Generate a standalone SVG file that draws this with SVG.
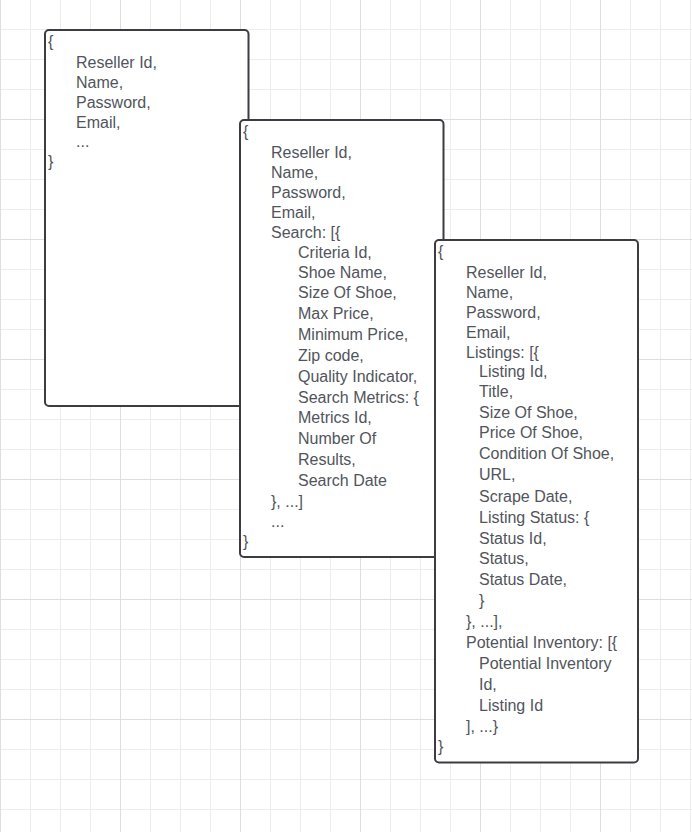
<svg xmlns="http://www.w3.org/2000/svg" width="692" height="832" viewBox="0 0 692 832">
<style>
.minor{stroke:#ededed;stroke-width:1;fill:none}
.major{stroke:#dedede;stroke-width:1;fill:none}
.box{fill:#ffffff;stroke:#3c3c42;stroke-width:2}
text{font-family:"Liberation Sans",Arial,sans-serif;font-size:16px;fill:#51555b}
</style>
<rect x="0" y="0" width="692" height="832" fill="#ffffff"/>
<path class="minor" d="M30.5 0V832M60.5 0V832M90.5 0V832M150.5 0V832M180.5 0V832M210.5 0V832M270.5 0V832M300.5 0V832M330.5 0V832M390.5 0V832M420.5 0V832M450.5 0V832M510.5 0V832M540.5 0V832M570.5 0V832M630.5 0V832M660.5 0V832M690.5 0V832M0 29.5H692M0 59.5H692M0 89.5H692M0 149.5H692M0 179.5H692M0 209.5H692M0 269.5H692M0 299.5H692M0 329.5H692M0 389.5H692M0 419.5H692M0 449.5H692M0 509.5H692M0 539.5H692M0 569.5H692M0 629.5H692M0 659.5H692M0 689.5H692M0 749.5H692M0 779.5H692M0 809.5H692"/>
<path class="major" d="M0.5 0V832M120.5 0V832M240.5 0V832M360.5 0V832M480.5 0V832M600.5 0V832M0 119.5H692M0 239.5H692M0 359.5H692M0 479.5H692M0 599.5H692M0 719.5H692"/>
<g id="connectors"/>
<g id="node-reseller">
<rect class="box" x="45" y="30" width="203.5" height="376" rx="4"/>
<text x="48" y="47">{</text>
<text x="76" y="67.5">Reseller Id,</text>
<text x="76" y="87.5">Name,</text>
<text x="76" y="107.5">Password,</text>
<text x="76" y="127.5">Email,</text>
<text x="76" y="147">...</text>
<text x="48" y="167">}</text>
</g>
<g id="node-reseller-search">
<rect class="box" x="240" y="120" width="203.5" height="437" rx="4"/>
<text x="243" y="137">{</text>
<text x="271" y="157.5">Reseller Id,</text>
<text x="271" y="177.5">Name,</text>
<text x="271" y="197.5">Password,</text>
<text x="271" y="217.5">Email,</text>
<text x="271" y="237.5">Search: [{</text>
<text x="298" y="257.5">Criteria Id,</text>
<text x="298" y="277.5">Shoe Name,</text>
<text x="298" y="297.5">Size Of Shoe,</text>
<text x="298" y="319">Max Price,</text>
<text x="298" y="340">Minimum Price,</text>
<text x="298" y="361">Zip code,</text>
<text x="298" y="381.5">Quality Indicator,</text>
<text x="298" y="402.5">Search Metrics: {</text>
<text x="298" y="423">Metrics Id,</text>
<text x="298" y="444">Number Of</text>
<text x="298" y="465">Results,</text>
<text x="298" y="485.5">Search Date</text>
<text x="271" y="506.5">}, ...]</text>
<text x="271" y="526.5">...</text>
<text x="243" y="546.5">}</text>
</g>
<g id="node-reseller-listings">
<rect class="box" x="435" y="240" width="203" height="522.5" rx="4"/>
<text x="438" y="257">{</text>
<text x="466" y="277.5">Reseller Id,</text>
<text x="466" y="297.5">Name,</text>
<text x="466" y="317.5">Password,</text>
<text x="466" y="337.5">Email,</text>
<text x="466" y="357.5">Listings: [{</text>
<text x="479" y="376.5">Listing Id,</text>
<text x="479" y="397">Title,</text>
<text x="479" y="417.5">Size Of Shoe,</text>
<text x="479" y="438">Price Of Shoe,</text>
<text x="479" y="459">Condition Of Shoe,</text>
<text x="479" y="480">URL,</text>
<text x="479" y="501.5">Scrape Date,</text>
<text x="479" y="522.5">Listing Status: {</text>
<text x="479" y="543.5">Status Id,</text>
<text x="479" y="564">Status,</text>
<text x="479" y="585">Status Date,</text>
<text x="479" y="605.5">}</text>
<text x="466" y="626.5">}, ...],</text>
<text x="466" y="647.5">Potential Inventory: [{</text>
<text x="479" y="668.5">Potential Inventory</text>
<text x="479" y="689.5">Id,</text>
<text x="479" y="710.5">Listing Id</text>
<text x="466" y="731.5">], ...}</text>
<text x="438" y="752">}</text>
</g>
</svg>
